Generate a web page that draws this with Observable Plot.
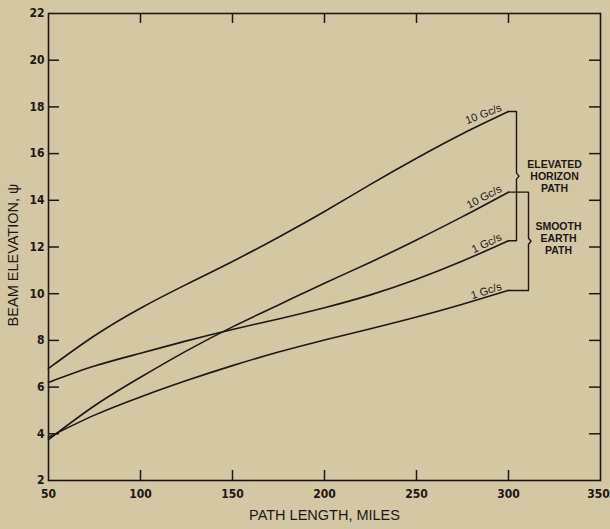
<!DOCTYPE html>
<html><head><meta charset="utf-8">
<script src="https://cdn.jsdelivr.net/npm/d3@7"></script>
<script src="https://cdn.jsdelivr.net/npm/@observablehq/plot@0.6"></script>
<style>
html,body{margin:0;padding:0;background:#d3c7a4;}
#chart{width:610px;height:529px;}
</style></head><body><div id="chart"></div>
<script>
// ---- data ----
const pathLength = [50, 75, 100, 125, 150, 175, 200, 225, 250, 275, 300];
const elevated10 = [6.8, 8.2, 9.38, 10.4, 11.38, 12.42, 13.52, 14.68, 15.8, 16.85, 17.8];
const elevated1  = [6.2, 6.9, 7.45, 7.98, 8.47, 8.92, 9.4, 9.95, 10.62, 11.4, 12.27];
const smooth10   = [3.75, 5.2, 6.42, 7.55, 8.58, 9.52, 10.45, 11.35, 12.3, 13.3, 14.35];
const smooth1    = [3.85, 4.8, 5.58, 6.28, 6.92, 7.5, 8.02, 8.5, 9.0, 9.55, 10.14];
const seriesKeys   = ["elevated10", "elevated1", "smooth10", "smooth1"];
const seriesLabels = ["10 Gc/s", "1 Gc/s", "10 Gc/s", "1 Gc/s"];
const labelAngles  = [-21, -25, -28, -18];
const xTickLabels = [50, 100, 150, 200, 250, 300, 350];
const yTickLabels = [2, 4, 6, 8, 10, 12, 14, 16, 18, 20, 22];
const xInnerTicks = [100, 150, 200, 250, 300];
const yInnerTicks = [4, 6, 8, 10, 12, 14, 16, 18, 20];
const groupNames = ["ELEVATED\nHORIZON\nPATH", "SMOOTH\nEARTH\nPATH"];
const xTitle = "PATH LENGTH, MILES";
const yTitle = "BEAM ELEVATION, \u03c8";

// ---- layout / style ----
const W = 610, H = 529;
const mL = 48, mR = 10, mT = 13, mB = 49;
const innerW = W - mL - mR, innerH = H - mT - mB;
const ink = "#1d1813";
const font = "'Liberation Sans Narrow', 'DejaVu Sans Condensed', 'Liberation Sans', sans-serif";
const font2 = "'Liberation Sans', 'DejaVu Sans', sans-serif";

const seriesValues = [elevated10, elevated1, smooth10, smooth1];
const rows = seriesKeys.flatMap((k, i) =>
  pathLength.map((x, j) => ({series: k, x, y: seriesValues[i][j]})));
const ends = seriesKeys.map((k, i) => ({
  series: k, x: pathLength[pathLength.length - 1],
  y: seriesValues[i][seriesValues[i].length - 1],
  text: seriesLabels[i], angle: labelAngles[i]
}));

// brackets built from the series end values
const xPerPx = (350 - 50) / innerW;
const yPerPx = (22 - 2) / innerH;
function bracket(name, top, bottom, offsetPx) {
  const x0 = top.x, xb = x0 + offsetPx * xPerPx, xc = xb + 2.5 * xPerPx;
  const mid = (top.y + bottom.y) / 2, n = 3 * yPerPx;
  return [
    {g: name, x: x0, y: top.y}, {g: name, x: xb, y: top.y},
    {g: name, x: xb, y: mid + n}, {g: name, x: xc, y: mid},
    {g: name, x: xb, y: mid - n}, {g: name, x: xb, y: bottom.y},
    {g: name, x: x0, y: bottom.y}
  ];
}
const bracketRows = [
  ...bracket("elevated", ends[0], ends[1], 8),
  ...bracket("smooth", ends[2], ends[3], 20)
];
const groupText = [
  {text: groupNames[0], x: ends[0].x, y: (ends[0].y + ends[1].y) / 2},
  {text: groupNames[1], x: ends[2].x, y: (ends[2].y + ends[3].y) / 2}
];
const tickFont = {fontSize: 12, fontWeight: "bold", fontFamily: font, fill: ink};

const chart = Plot.plot({
  width: W, height: H,
  marginLeft: mL, marginRight: mR, marginTop: mT, marginBottom: mB,
  style: {background: "#d3c7a4", color: ink, fontFamily: font, overflow: "visible"},
  x: {domain: [50, 350]},
  y: {domain: [2, 22]},
  marks: [
    Plot.frame({stroke: ink, strokeWidth: 1.6}),
    Plot.tickX(xInnerTicks, {x: d => d, insetTop: innerH - 10, stroke: ink, strokeWidth: 1.5}),
    Plot.tickX(xInnerTicks, {x: d => d, insetBottom: innerH - 10, stroke: ink, strokeWidth: 1.5}),
    Plot.tickY(yInnerTicks, {y: d => d, insetRight: innerW - 11, stroke: ink, strokeWidth: 1.5}),
    Plot.tickY(yInnerTicks, {y: d => d, insetLeft: innerW - 11, stroke: ink, strokeWidth: 1.5}),
    Plot.axisX(xTickLabels.slice(0, -1), {tickSize: 0, tickPadding: 9, label: null, ...tickFont}),
    Plot.axisX(xTickLabels.slice(-1), {tickSize: 0, tickPadding: 9, label: null, dx: -2, ...tickFont}),
    Plot.axisY(yTickLabels, {tickSize: 0, tickPadding: 4, label: null, ...tickFont}),
    Plot.line(rows, {x: "x", y: "y", z: "series", curve: "natural", stroke: ink, strokeWidth: 1.6}),
    Plot.line(bracketRows, {x: "x", y: "y", z: "g", stroke: ink, strokeWidth: 1.4}),
    Plot.text(ends, {x: "x", y: "y", text: "text", rotate: "angle", textAnchor: "end", lineAnchor: "bottom",
      dx: -6, dy: -1, fontSize: 11, fontFamily: font2, fill: ink}),
    Plot.text(groupText.slice(0, 1), {x: "x", y: "y", text: "text", dx: 46, lineHeight: 1.15,
      fontSize: 10.5, fontWeight: "bold", fontFamily: font2, fill: ink}),
    Plot.text(groupText.slice(1), {x: "x", y: "y", text: "text", dx: 50, dy: -3, lineHeight: 1.15,
      fontSize: 10.5, fontWeight: "bold", fontFamily: font2, fill: ink}),
    Plot.text([xTitle], {frameAnchor: "bottom", dy: 39, text: d => d, fontSize: 14.5, fontFamily: font2, letterSpacing: "1px", fill: ink}),
    Plot.text([yTitle], {frameAnchor: "left", dx: -35, dy: 8, rotate: -90, textAnchor: "middle", text: d => d, fontSize: 14.5, fontFamily: font2, letterSpacing: "1px", fill: ink})
  ]
});
document.getElementById("chart").appendChild(chart);
</script>
</body></html>
